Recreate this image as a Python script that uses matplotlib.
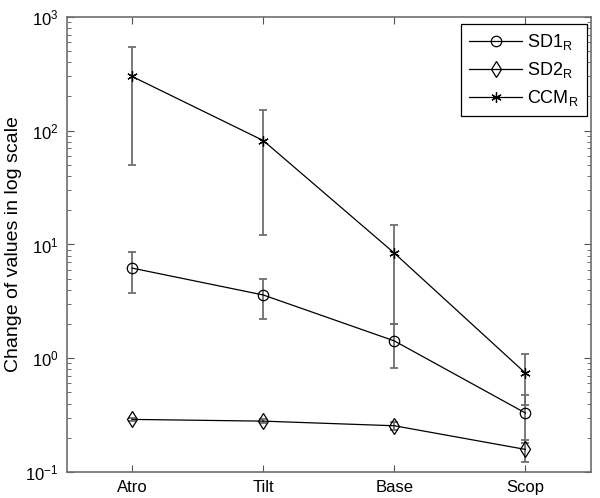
import matplotlib
matplotlib.use("Agg")
import matplotlib.pyplot as plt
from matplotlib.ticker import LogLocator, NullFormatter

plt.rcParams['font.family'] = ['Liberation Sans', 'DejaVu Sans']
plt.rcParams['mathtext.fontset'] = 'custom'
plt.rcParams['mathtext.rm'] = 'Liberation Sans'
plt.rcParams['mathtext.it'] = 'Liberation Sans'

categories = ["Atro", "Tilt", "Base", "Scop"]
sd1_mean = [6.2, 3.6, 1.42, 0.33]
sd1_err = [2.47, 1.4, 0.6, 0.15]
sd2_mean = [0.29, 0.28, 0.255, 0.158]
sd2_err = [0.008, 0.012, 0.02, 0.035]
ccm_mean = [300, 82, 8.4, 0.74]
ccm_err = [250, 70, 6.4, 0.35]
series_labels = [r"SD1$_\mathregular{R}$", r"SD2$_\mathregular{R}$", r"CCM$_\mathregular{R}$"]

fig = plt.figure(figsize=(6.0, 4.98), dpi=100)
ax = fig.add_axes([0.111, 0.0522, 0.874, 0.9137])

x = list(range(1, len(categories) + 1))
ecol = '#6e6e6e'
specs = [
    (sd1_mean, sd1_err, 'o', 7.5),
    (sd2_mean, sd2_err, 'd', 8.5),
    (ccm_mean, ccm_err, (6, 2, 0), 7.5),
]
handles = []
for (m, e, mk, ms), lab in zip(specs, series_labels):
    ax.errorbar(x, m, yerr=e, fmt='none', ecolor=ecol, elinewidth=1.3,
                capsize=2.7, capthick=1.3, zorder=2)
    h, = ax.plot(x, m, color='black', lw=0.9, marker=mk, ms=ms,
                 mfc='none', mec='black', mew=0.9, label=lab, zorder=3)
    handles.append(h)

ax.set_yscale('log')
ax.set_ylim(0.1, 1000)
ax.set_xlim(0.5, 4.5)
ax.set_xticks(x)
ax.set_xticklabels(categories)
ax.yaxis.set_major_locator(LogLocator(base=10, numticks=10))
ax.yaxis.set_minor_locator(LogLocator(base=10, subs=range(2, 10), numticks=20))
ax.yaxis.set_minor_formatter(NullFormatter())
ax.tick_params(which='both', direction='in', top=True, right=True,
               labelsize=12, colors='#555555', labelcolor='black')
ax.tick_params(which='major', length=5, pad=6)
ax.tick_params(which='minor', length=3)
ax.set_ylabel("Change of values in log scale", fontsize=14, labelpad=2)
for s in ax.spines.values():
    s.set_color('#6e6e6e')
    s.set_linewidth(1.2)

leg = ax.legend(handles=handles, loc='upper right', fontsize=13,
                handlelength=2.9, handletextpad=0.3, fancybox=False,
                framealpha=1, edgecolor='black', borderpad=0.45,
                labelspacing=0.45, borderaxespad=0,
                bbox_to_anchor=(0.9924, 0.9846))
leg.get_frame().set_linewidth(0.9)

fig.savefig("out.png", dpi=100)
